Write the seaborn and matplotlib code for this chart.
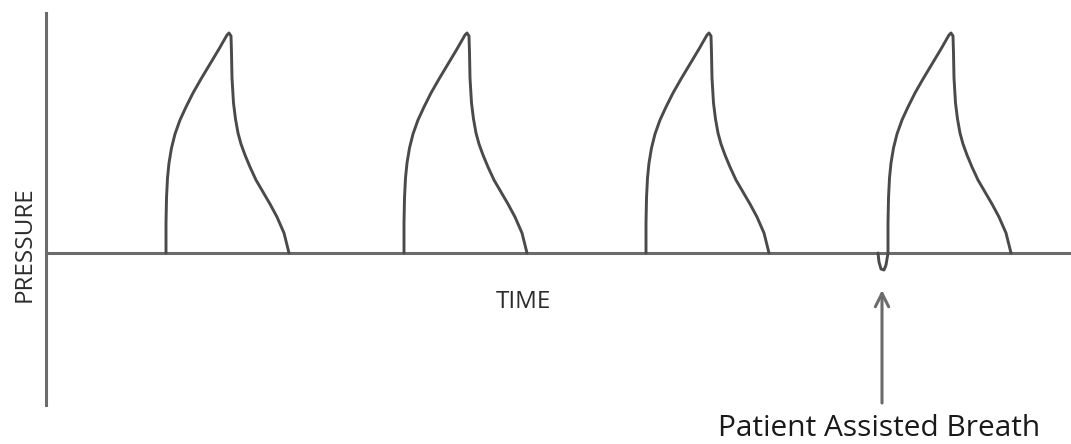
import pandas as pd
import matplotlib.pyplot as plt
import seaborn as sns

# Breath onset times (arbitrary time units)
breath_starts = [12.0, 35.8, 60.0, 84.2]

# One breath shape: time after onset and pressure (rise, sharp peak, fall)
shape_time = [0.0, 0.0, 0.05, 0.15, 0.3, 0.55, 0.9, 1.4, 2.0, 2.7, 3.5, 4.4, 5.3, 6.1, 6.3, 6.5,
              6.55, 6.6, 6.75, 6.95, 7.2, 7.5, 7.9, 8.4, 9.0, 9.7, 10.4, 11.1, 11.8, 12.3]
shape_pressure = [0.0, 3.0, 5.5, 7.5, 9.0, 10.5, 11.9, 13.3, 14.6, 16.0, 17.4, 18.9, 20.4, 21.8, 22.0, 21.7,
                  20.0, 17.5, 15.0, 13.4, 12.0, 10.9, 9.8, 8.6, 7.3, 6.1, 4.9, 3.6, 2.0, 0.0]

# Small negative dip before the patient-triggered (4th) breath
dip_time = [-1.0, -0.9, -0.7, -0.4, -0.2]
dip_pressure = [0.0, -0.9, -1.6, -1.7, -1.2]
triggered_breath = 3

rows = []
for i, start in enumerate(breath_starts):
    if i == triggered_breath:
        for t, p in zip(dip_time, dip_pressure):
            rows.append({'breath': i, 'time': start + t, 'pressure': p})
    for t, p in zip(shape_time, shape_pressure):
        rows.append({'breath': i, 'time': start + t, 'pressure': p})
df = pd.DataFrame(rows)

sns.set_style('white')
plt.rcParams['font.family'] = ['Open Sans', 'DejaVu Sans']

fig = plt.figure(figsize=(10.71, 4.44), dpi=100)
ax = fig.add_axes([0, 0, 1, 1])

wave_color = '#4a4a4a'
axis_color = '#6b6b6b'

sns.lineplot(data=df, x='time', y='pressure', units='breath', estimator=None, sort=False,
             color=wave_color, linewidth=2.1, ax=ax, legend=False,
             solid_joinstyle='round', solid_capstyle='round')

ax.set_xlim(-4.6, 102.5)
ax.set_ylim(-19.1, 25.3)

# axes drawn as crossing spines
for side in ['top', 'right']:
    ax.spines[side].set_visible(False)
ax.spines['left'].set_position(('data', 0))
ax.spines['bottom'].set_position(('data', 0))
ax.spines['left'].set_bounds(-15.2, 24.0)
ax.spines['bottom'].set_bounds(0, 102.5)
for side in ['left', 'bottom']:
    ax.spines[side].set_color(axis_color)
    ax.spines[side].set_linewidth(2.2)
    ax.spines[side].set_zorder(1)
ax.set_xticks([])
ax.set_yticks([])
ax.set_xlabel('')
ax.set_ylabel('')
ax.patch.set_visible(False)

ax.text(-2.1, 0.9, 'PRESSURE', rotation=90, ha='center', va='center',
        fontsize=17.5, color='#2b2b2b')
ax.text(47.7, -4.9, 'TIME', ha='center', va='center', fontsize=17.5, color='#2b2b2b')

ax.annotate('', xy=(83.6, -3.7), xytext=(83.6, -15.0),
            arrowprops=dict(arrowstyle='->', color=axis_color, lw=2.2, mutation_scale=24,
                            shrinkA=0, shrinkB=0))
ax.text(83.3, -17.5, 'Patient Assisted Breath', ha='center', va='center',
        fontsize=21.5, color='#1a1a1a')

fig.savefig('out.png', dpi=100)
